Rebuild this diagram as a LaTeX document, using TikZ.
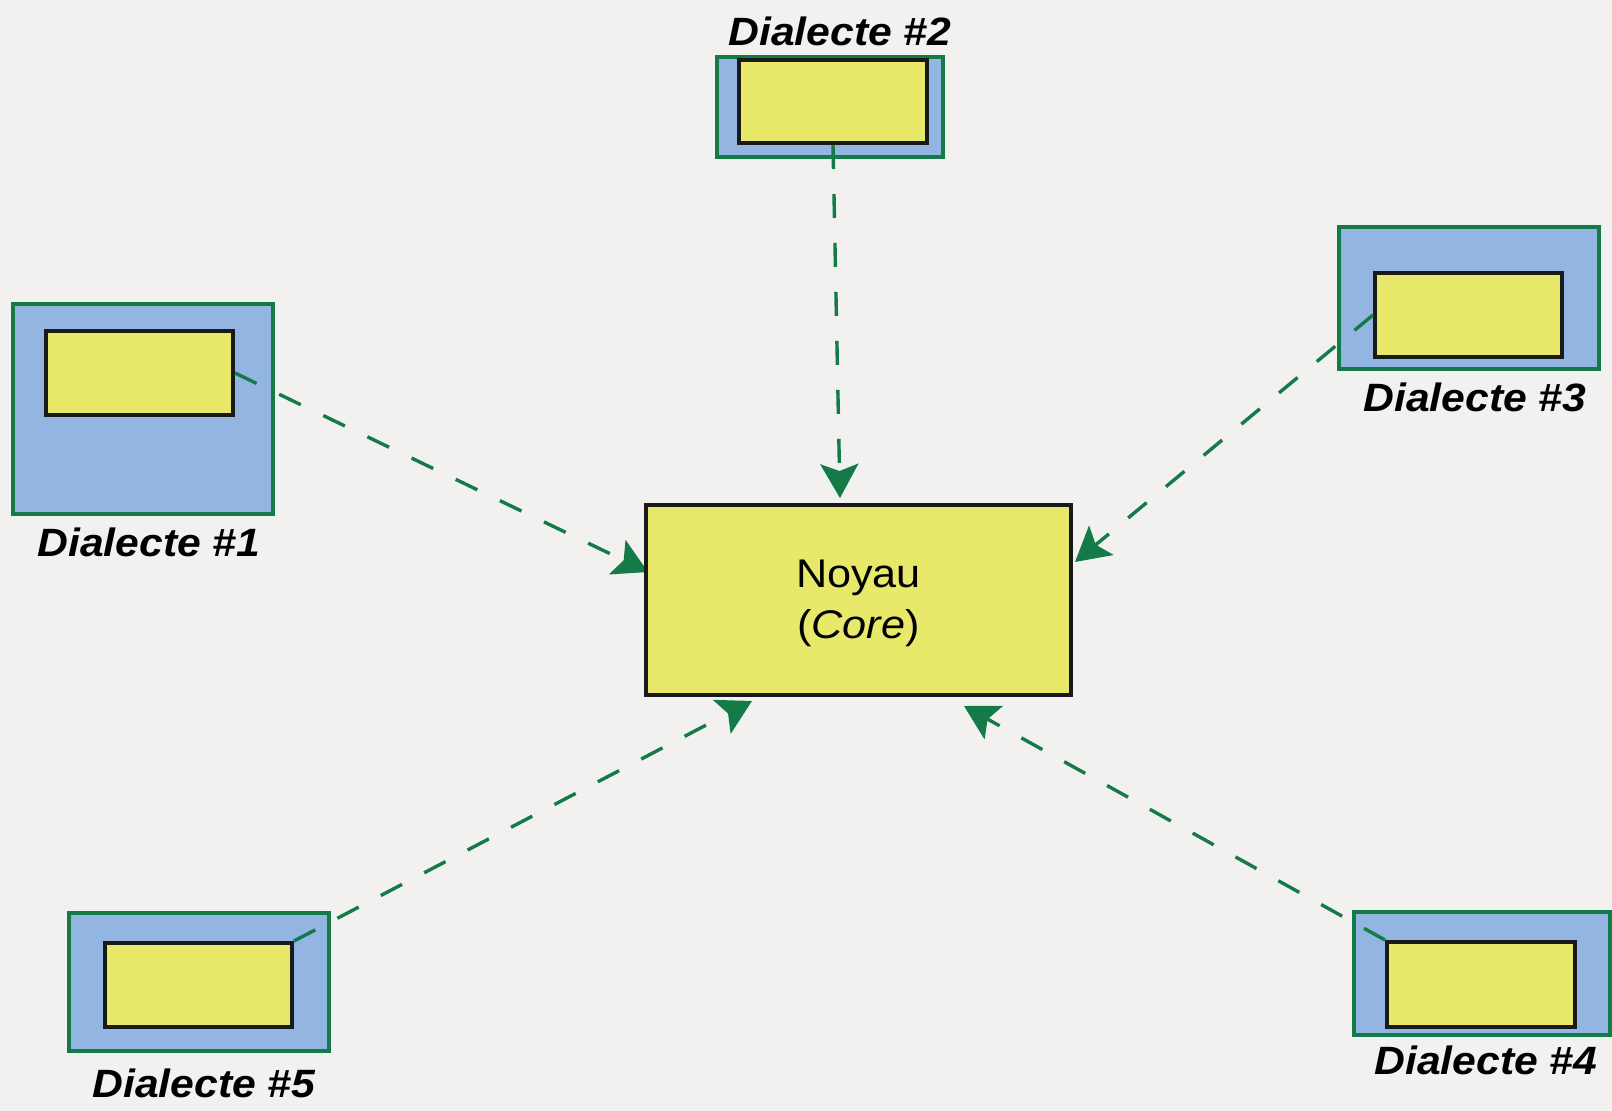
\documentclass[tikz,border=0pt]{standalone}
\usepackage{fontspec}
\setmainfont{Liberation Sans}
\newfontfamily\diafont[FakeStretch=1.08]{Liberation Sans}
\usetikzlibrary{arrows.meta}

\definecolor{paper}{HTML}{F2F1F0}
\definecolor{dblue}{HTML}{92B6E1}
\definecolor{dyellow}{HTML}{E8E86A}
\definecolor{dgreen}{HTML}{137A48}
\definecolor{dblack}{HTML}{1A1A1A}

\tikzset{
  outerbox/.style={draw=dgreen, fill=dblue, line width=3.6pt, inner sep=0pt},
  innerbox/.style={draw=dblack, fill=dyellow, line width=4pt, inner sep=0pt},
  corebox/.style={draw=dblack, fill=dyellow, line width=3.6pt, inner sep=0pt,
    minimum width=425pt, minimum height=190pt, align=center,
    font=\diafont\fontsize{40}{51}\selectfont},
  dlabel/.style={anchor=base, inner sep=0pt,
    font=\diafont\fontsize{39.5}{47}\selectfont\bfseries\itshape},
  link/.style={draw=dgreen, line width=3.4pt, dash pattern=on 24pt off 25pt,
    -{Stealth[length=34pt, width=38pt, inset=7pt]}}
}

\begin{document}
\begin{tikzpicture}[x=1pt, y=-1pt]
  % page and background
  \useasboundingbox (0,0) rectangle (1612,1111);
  \fill[paper] (0,0) rectangle (1612,1111);

  % Dialecte #1
  \node[outerbox, minimum width=260pt, minimum height=210pt] (d1out) at (143,409) {};
  \node[innerbox, minimum width=187pt, minimum height=84pt] (d1in) at (139.5,373) {};
  \node[dlabel] (l1) at (149,556) {Dialecte \#1};

  % Dialecte #2
  \node[outerbox, minimum width=226pt, minimum height=100pt] (d2out) at (830,107) {};
  \node[innerbox, minimum width=188pt, minimum height=83pt] (d2in) at (833,101.5) {};
  \node[dlabel] (l2) at (840,45) {Dialecte \#2};

  % Dialecte #3
  \node[outerbox, minimum width=260pt, minimum height=142pt] (d3out) at (1469,298) {};
  \node[innerbox, minimum width=187pt, minimum height=84pt] (d3in) at (1468.5,315) {};
  \node[dlabel] (l3) at (1475,411) {Dialecte \#3};

  % Dialecte #4
  \node[outerbox, minimum width=256pt, minimum height=123pt] (d4out) at (1482,973.5) {};
  \node[innerbox, minimum width=188pt, minimum height=85pt] (d4in) at (1481,984.5) {};
  \node[dlabel] (l4) at (1486,1074) {Dialecte \#4};

  % Dialecte #5
  \node[outerbox, minimum width=260pt, minimum height=138pt] (d5out) at (199,982) {};
  \node[innerbox, minimum width=187pt, minimum height=84pt] (d5in) at (198.5,985) {};
  \node[dlabel] (l5) at (204,1097) {Dialecte \#5};

  % arrow tips around the core
  \coordinate (t1) at (648,572);
  \coordinate (t2) at (840,498);
  \coordinate (t3) at (1075,562);
  \coordinate (t4) at (964,706);
  \coordinate (t5) at (752,701);

  % dashed links from each dialect to the core
  \draw[link] (d1in.east) -- (t1);
  \draw[link] (d2in.south) -- (t2);
  \draw[link] (d3in.west) -- (t3);
  \draw[link] (d4in.north west) -- (t4);
  \draw[link] (d5in.north east) -- (t5);

  % the core, drawn last so it covers the arrow tips touching it
  \node[corebox] (core) at (858.5,600) {\rule{0pt}{35pt}Noyau\\(\textit{Core})};
\end{tikzpicture}
\end{document}
